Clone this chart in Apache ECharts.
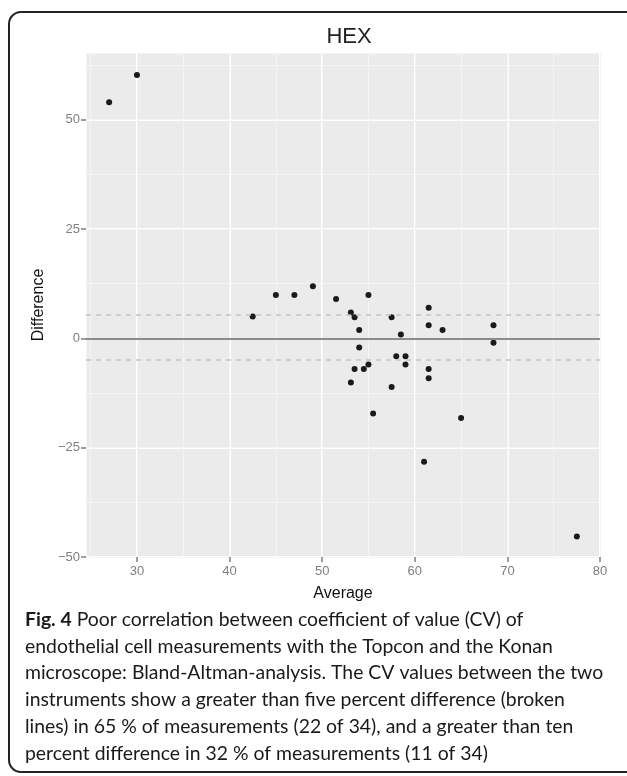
<!DOCTYPE html>
<html>
<head>
<meta charset="utf-8">
<script src="https://cdn.jsdelivr.net/npm/echarts@6/dist/echarts.min.js"></script>
<style>
  html, body { margin: 0; padding: 0; background: #fff; }
  #chart { width: 627px; height: 776px; }
</style>
</head>
<body>
<div id="chart"></div>
<script>
// Bland-Altman, HEX
const average = [27, 30, 42.5, 45, 47, 49, 51.5, 55, 53.1, 53.5, 57.5, 61.5, 54, 61.5, 63, 68.5, 58.5, 54,
  68.5, 58, 59, 55, 59, 53.5, 54.5, 61.5, 61.5, 53.1, 57.5, 55.5, 65, 61, 77.5]
const difference = [54, 60.2, 5, 9.9, 9.9, 11.9, 9, 9.9, 5.9, 4.8, 4.8, 7, 1.9, 3, 1.9, 3, 0.9, -2.1,
  -1, -4.1, -4.1, -6, -6, -7, -7, -7, -9.1, -10.1, -11.1, -17.2, -18.2, -28.2, -45.3]
const refLines = [0, 5.3, -5]   // mean line + broken lines
const xTicks = [30, 40, 50, 60, 70, 80]
const yTicks = [-50, -25, 0, 25, 50]

const caption = [
  'Poor correlation between coefficient of value (CV) of',
  'endothelial cell measurements with the Topcon and the Konan',
  'microscope: Bland-Altman-analysis. The CV values between the two',
  'instruments show a greater than five percent difference (broken',
  'lines) in 65 % of measurements (22 of 34), and a greater than ten',
  'percent difference in 32 % of measurements (11 of 34)'
]

const myChart = echarts.init(document.getElementById('chart'), null, {renderer: 'canvas'})

const grey = '#7f7f7f'
const capFont = 'Lato'
const capSize = 19.4

const capLines = caption.map((t, i) => ({
  type: 'text',
  left: 25,
  top: 610 + i * 26.8,
  style: {
    text: i === 0 ? '{b|Fig. 4} ' + t : t,
    font: capSize + 'px ' + capFont,
    fill: '#1a1a1a',
    rich: {b: {fontFamily: capFont, fontWeight: 'bold', fontSize: capSize, fill: '#1a1a1a'}}
  }
}))

const option = {
  animation: false,
  grid: {
    left: 86, right: 27, top: 53, bottom: 219,
    show: true, backgroundColor: '#ebebeb', borderWidth: 0
  },
  xAxis: [
    {
      type: 'value', min: 24.5, max: 80, splitNumber: 5,
      name: 'Average', nameLocation: 'middle', nameGap: 29,
      nameTextStyle: {color: '#111', fontSize: 16, fontFamily: 'Liberation Sans'},
      axisLine: {show: false, onZero: false},
      axisTick: {show: true, length: 5, lineStyle: {color: grey, width: 1.5}},
      axisLabel: {
        color: grey, fontSize: 13, fontFamily: 'Liberation Sans', margin: 8,
        showMinLabel: false,
        formatter: v => xTicks.includes(v) ? String(v) : ''
      },
      splitLine: {show: true, lineStyle: {color: '#fff', width: 2}}
    },
    {
      // minor grid
      type: 'value', min: 24.5, max: 80, splitNumber: 11,
      axisLine: {show: false, onZero: false}, axisTick: {show: false}, axisLabel: {show: false},
      splitLine: {show: true, lineStyle: {color: '#f4f4f4', width: 1}}
    }
  ],
  yAxis: [
    {
      type: 'value', min: -50, max: 65.25, interval: 25,
      name: 'Difference', nameLocation: 'middle', nameGap: 32, nameRotate: 90,
      nameTextStyle: {color: '#111', fontSize: 16, fontFamily: 'Liberation Sans'},
      axisLine: {show: false, onZero: false},
      axisTick: {show: true, length: 5, lineStyle: {color: grey, width: 1.5}},
      axisLabel: {
        color: grey, fontSize: 13, fontFamily: 'Liberation Sans', margin: 6,
        showMaxLabel: false,
        formatter: v => yTicks.includes(v) ? String(v).replace('-', '\u2212') : ''
      },
      splitLine: {show: true, lineStyle: {color: '#fff', width: 2}}
    },
    {
      type: 'value', min: -50, max: 65.25, interval: 12.5,
      axisLine: {show: false, onZero: false}, axisTick: {show: false}, axisLabel: {show: false},
      splitLine: {show: true, lineStyle: {color: '#f4f4f4', width: 1}}
    }
  ],
  graphic: [
    {
      type: 'rect', z: 100,
      shape: {x: 9, y: 12, width: 700, height: 760, r: 12},
      style: {fill: 'none', stroke: '#222', lineWidth: 2}
    },
    {
      type: 'text', x: 349, y: 37,
      style: {text: 'HEX', font: '22px "Liberation Sans"', fill: '#222', textAlign: 'center', textVerticalAlign: 'middle'}
    },
    ...capLines
  ],
  series: [
    {
      type: 'scatter',
      symbolSize: 6,
      itemStyle: {color: '#1a1a1a', opacity: 1},
      data: average.map((a, i) => [a, difference[i]]),
      markLine: {
        silent: true,
        symbol: 'none',
        label: {show: false},
        animation: false,
        data: refLines.map((v, i) => ({
          yAxis: v,
          lineStyle: i === 0
            ? {color: '#8c8c8c', width: 2, type: 'solid'}
            : {color: '#c4c4c4', width: 1.5, type: [5, 5]}
        }))
      }
    }
  ]
}

myChart.setOption(option)
</script>
</body>
</html>
